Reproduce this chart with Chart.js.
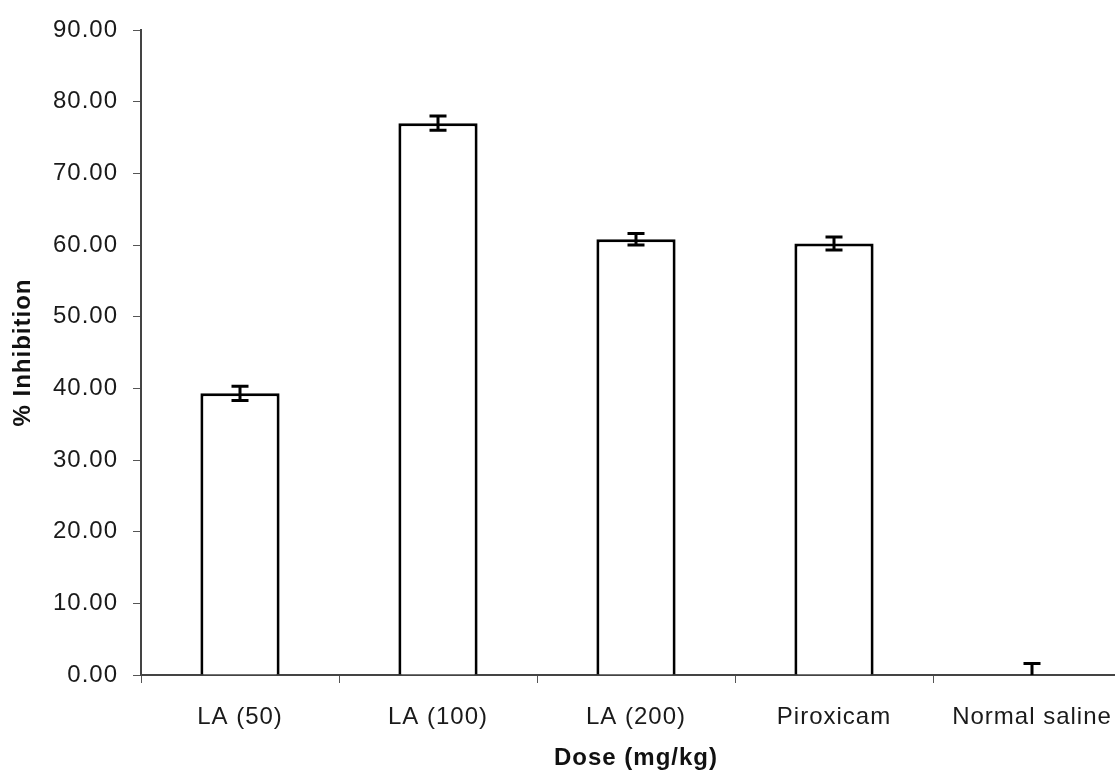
<!DOCTYPE html>
<html>
<head>
<meta charset="utf-8">
<title>% Inhibition by dose</title>
<script src="https://cdn.jsdelivr.net/npm/chart.js@4/dist/chart.umd.min.js"></script>
<style>
  html, body { margin: 0; padding: 0; background: #ffffff; overflow: hidden; }
  #wrap { width: 1115px; height: 780px; overflow: hidden; }
  canvas { display: block; }
</style>
</head>
<body>
<div id="wrap"><canvas id="chart" width="1140" height="780"></canvas></div>
<script>
// Treatment groups on the x axis
const categories = ['LA (50)', 'LA (100)', 'LA (200)', 'Piroxicam', 'Normal saline'];
// Mean % inhibition per group
const inhibition = [39.3, 77.0, 60.8, 60.2, 0.0];
// Error (± SEM) per group
const inhibitionError = [1.0, 1.0, 0.8, 0.9, 1.6];
// Y axis tick labels, 0 to 90 in steps of 10
const yTickLabels = ['0.00', '10.00', '20.00', '30.00', '40.00', '50.00', '60.00', '70.00', '80.00', '90.00'];

const FONT = '"Liberation Sans", Arial, sans-serif';

// Slightly spaced lettering for all canvas text
const letterSpacingPlugin = {
  id: 'letterSpacing',
  beforeUpdate(chart) { chart.ctx.letterSpacing = '1px'; },
  beforeDraw(chart) { chart.ctx.letterSpacing = '1px'; }
};

// Error bars with flat caps, clipped to the plot area
const errorBarPlugin = {
  id: 'errorBars',
  afterDatasetsDraw(chart) {
    const { ctx, chartArea, scales } = chart;
    const meta = chart.getDatasetMeta(0);
    ctx.save();
    ctx.beginPath();
    ctx.rect(chartArea.left, chartArea.top, chartArea.right - chartArea.left, chartArea.bottom - chartArea.top);
    ctx.clip();
    ctx.strokeStyle = '#000000';
    ctx.lineWidth = 3;
    ctx.lineCap = 'butt';
    const capHalf = 8.5;
    meta.data.forEach((bar, i) => {
      const v = inhibition[i];
      const e = inhibitionError[i];
      const x = bar.x;
      const yHi = scales.y.getPixelForValue(v + e);
      const yLo = scales.y.getPixelForValue(v - e);
      ctx.beginPath();
      ctx.moveTo(x, yHi);
      ctx.lineTo(x, yLo);
      ctx.moveTo(x - capHalf, yHi);
      ctx.lineTo(x + capHalf, yHi);
      ctx.moveTo(x - capHalf, yLo);
      ctx.lineTo(x + capHalf, yLo);
      ctx.stroke();
    });
    ctx.restore();
  }
};

new Chart(document.getElementById('chart'), {
  type: 'bar',
  data: {
    labels: categories,
    datasets: [{
      data: inhibition,
      backgroundColor: '#ffffff',
      borderColor: '#000000',
      borderWidth: 3,
      borderSkipped: 'start',
      categoryPercentage: 1.0,
      barPercentage: 0.4
    }]
  },
  options: {
    responsive: false,
    animation: false,
    devicePixelRatio: 1,
    layout: { padding: { top: 30, right: 9, left: 0, bottom: 0 } },
    plugins: {
      legend: { display: false },
      tooltip: { enabled: false }
    },
    scales: {
      x: {
        offset: true,
        grid: {
          display: true,
          offset: true,
          drawOnChartArea: false,
          drawTicks: true,
          tickLength: 8,
          color: '#555555',
          lineWidth: 1
        },
        border: { display: true, color: '#444444', width: 2 },
        ticks: {
          color: '#1a1a1a',
          font: { family: FONT, size: 24 },
          padding: 20,
          maxRotation: 0,
          autoSkip: false
        },
        title: {
          display: true,
          text: 'Dose (mg/kg)',
          color: '#111111',
          font: { family: FONT, size: 24, weight: 'bold' },
          padding: { top: 0, bottom: 7 }
        },
        afterFit(scale) { scale.height = 105; }
      },
      y: {
        min: 0,
        max: 90,
        grid: {
          display: true,
          drawOnChartArea: false,
          drawTicks: true,
          tickLength: 8,
          color: '#555555',
          lineWidth: 1
        },
        border: { display: true, color: '#444444', width: 2 },
        ticks: {
          stepSize: 10,
          color: '#1a1a1a',
          font: { family: FONT, size: 24 },
          padding: 15,
          callback: (value, index) => yTickLabels[index]
        },
        title: {
          display: true,
          text: '% Inhibition',
          color: '#111111',
          font: { family: FONT, size: 24, weight: 'bold' },
          padding: { top: 9, bottom: 0 }
        },
        afterFit(scale) { scale.width = 141; }
      }
    }
  },
  plugins: [letterSpacingPlugin, errorBarPlugin]
});
</script>
</body>
</html>
